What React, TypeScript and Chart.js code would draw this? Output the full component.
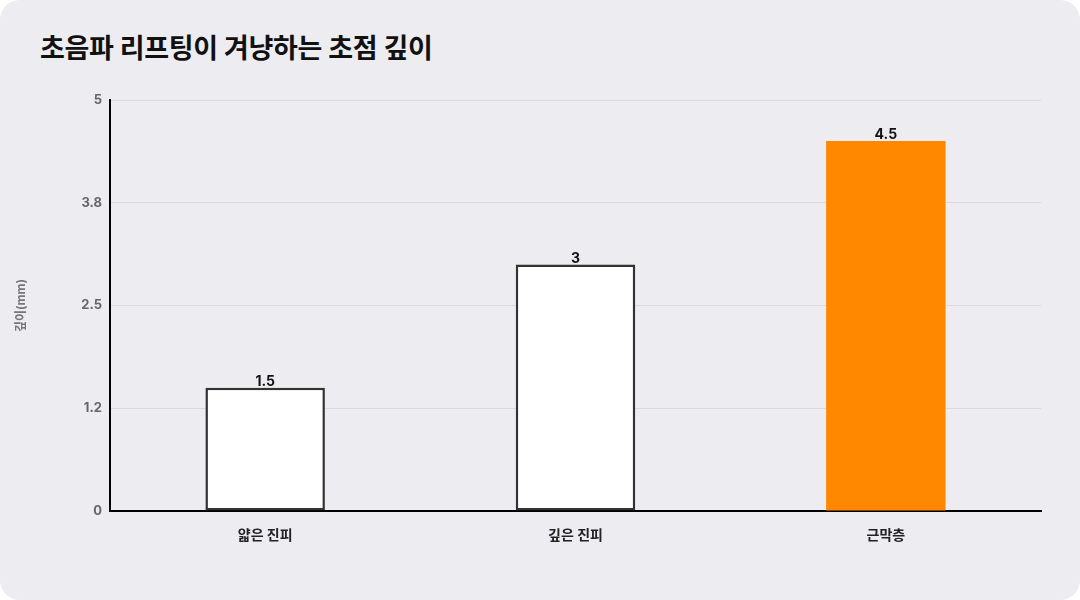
import React, {useEffect, useRef} from "react";
import Chart from "chart.js/auto";

const categories = ["얇은 진피", "깊은 진피", "근막층"];
const depthValues = [1.5, 3, 4.5];
const tickValues = [0, 1.25, 2.5, 3.75, 5];
const tickLabels = ["0", "1.2", "2.5", "3.8", "5"];

const FONT = "Inter, 'Noto Sans CJK KR', sans-serif";

// draws the value above each bar
const valueLabels = {
    id: "valueLabels",
    afterDatasetsDraw(chart: any) {
        const ctx = chart.ctx;
        const meta = chart.getDatasetMeta(0);
        ctx.save();
        ctx.font = `bold 14px ${FONT}`;
        ctx.fillStyle = "#111";
        ctx.textAlign = "center";
        ctx.textBaseline = "bottom";
        meta.data.forEach((bar: any, i: number) => {
            ctx.fillText(String(depthValues[i]), bar.x, bar.y + 1);
        });
        ctx.restore();
    },
};

const DepthChart: React.FC = () => {
    const chartRef = useRef<HTMLCanvasElement | null>(null);

    useEffect(() => {
        document.body.style.margin = "0";
        if (!chartRef.current) return;
        const ctx = chartRef.current.getContext("2d");
        if (!ctx) return;

        const chart = new Chart(ctx, {
            type: "bar",
            data: {
                labels: categories,
                datasets: [
                    {
                        label: "깊이(mm)",
                        data: depthValues,
                        backgroundColor: ["#ffffff", "#ffffff", "#ff8800"],
                        borderColor: ["#333333", "#333333", "#ff8800"],
                        borderWidth: [2.5, 2.5, 0],
                        borderSkipped: false,
                        barPercentage: 0.385,
                        categoryPercentage: 1,
                    },
                ],
            },
            options: {
                animation: false,
                responsive: false,
                layout: {padding: {top: 100, right: 39, bottom: 49, left: 0}},
                scales: {
                    y: {
                        min: 0,
                        max: 5,
                        afterFit: (scale: any) => {
                            scale.width = 110;
                        },
                        afterBuildTicks: (scale: any) => {
                            scale.ticks = tickValues.map((v) => ({value: v}));
                        },
                        ticks: {
                            callback: (_v: any, i: number) => tickLabels[i],
                            color: "#666",
                            font: {family: FONT, size: 13, weight: "bold"},
                            padding: 8,
                        },
                        grid: {color: "#d9d9de", lineWidth: 1, drawTicks: false},
                        border: {color: "#000", width: 2},
                        title: {
                            display: true,
                            text: "깊이(mm)",
                            color: "#777",
                            font: {family: FONT, size: 12, weight: "bold"},
                            padding: {top: 14, bottom: 0},
                        },
                    },
                    x: {
                        afterFit: (scale: any) => {
                            scale.height = 40;
                        },
                        ticks: {
                            color: "#222",
                            font: {family: FONT, size: 14, weight: "bold"},
                            padding: 8,
                        },
                        grid: {display: false},
                        border: {color: "#000", width: 2},
                    },
                },
                plugins: {
                    legend: {display: false},
                    tooltip: {enabled: false},
                },
            },
            plugins: [valueLabels],
        });

        return () => {
            chart.destroy();
        };
    }, []);

    return <canvas ref={chartRef} width={1080} height={600} style={{position: "absolute", left: 0, top: 0}}/>;
};

export default function App() {
    return (
        <div style={{background: "#fff", width: 1080, height: 600}}>
            <div
                style={{
                    position: "relative",
                    width: 1080,
                    height: 600,
                    background: "#ececf1",
                    borderRadius: 20,
                    overflow: "hidden",
                }}
            >
                <div
                    style={{
                        position: "absolute",
                        left: 40,
                        top: 27,
                        fontFamily: FONT,
                        fontWeight: 700,
                        fontSize: 27,
                        color: "#111",
                        letterSpacing: -0.3,
                    }}
                >
                    초음파 리프팅이 겨냥하는 초점 깊이
                </div>
                <DepthChart/>
            </div>
        </div>
    );
}
